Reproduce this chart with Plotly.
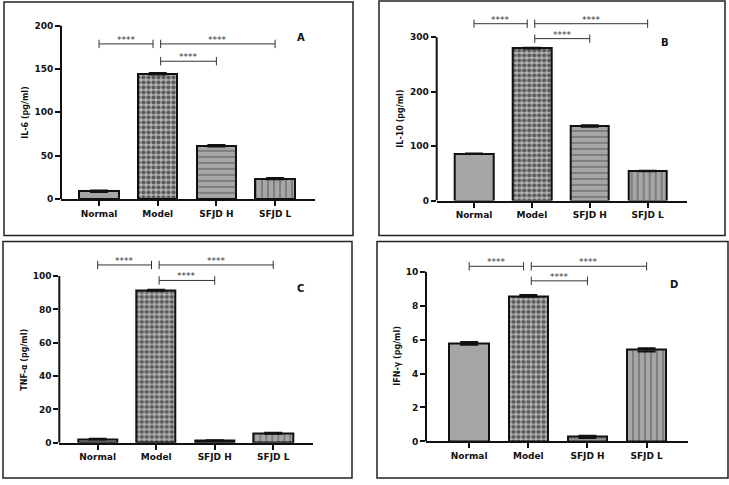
import plotly.graph_objects as go

# ---------------- data ----------------
categories = ["Normal", "Model", "SFJD H", "SFJD L"]

il6 = [8.8, 144.5, 61.5, 23.5]
il6_err = [0.8, 0.8, 0.9, 0.7]
il10 = [86, 280, 137, 54.5]
il10_err = [0.5, 0.6, 1.5, 0.5]
tnf = [2.1, 91.5, 1.2, 5.7]
tnf_err = [0.2, 0.3, 0.2, 0.3]
ifn = [5.78, 8.58, 0.27, 5.40]
ifn_err = [0.08, 0.05, 0.07, 0.1]

values = [il6, il10, tnf, ifn]
errors = [il6_err, il10_err, tnf_err, ifn_err]
y_titles = ["IL-6 (pg/ml)", "IL-10 (pg/ml)", "TNF-α (pg/ml)", "IFN-γ (pg/ml)"]
panel_letters = ["A", "B", "C", "D"]
y_ticks = [[0, 50, 100, 150, 200], [0, 100, 200, 300],
           [0, 20, 40, 60, 80, 100], [0, 2, 4, 6, 8, 10]]
sig_levels = [[179, 159], [325, 297.6], [106.7, 97.4], [10.33, 9.47]]
sig_label = "****"
# (from category, to category, level index)
comparisons = [(0, 0.92, 0), (1.05, 3, 0), (1.05, 2, 1)]
letter_pos = [(3.44, 186), (3.3, 290), (3.46, 92.5), (3.47, 9.24)]

# ---------------- layout geometry (pixels) ----------------
W, H = 729, 485
# axis x0, axis x1, y-pixel of zero, y-pixel of top tick, domain top pixel, x range
geom = [
    (61, 315, 201, 26, 10, [-0.648, 3.68]),
    (436.7, 687, 202.7, 37.7, 8, [-0.644, 3.68]),
    (59.3, 313, 447.3, 279, 252, [-0.656, 3.68]),
    (426, 688, 446, 274.7, 252, [-0.73, 3.70]),
]
title_shift = [-35.5, -36, -35, -28]
boxes = [(4, 2, 353, 238), (379, 1, 725, 238), (3, 244, 352, 483), (377, 244, 728, 483)]

GRAY = "#a6a6a6"
DARK = "#111111"
patterns = [
    dict(shape=""),
    dict(shape=".", fgcolor="#000000", bgcolor="#b4b4b4", size=5, solidity=0.55),
    dict(shape="-", fgcolor=DARK, bgcolor=GRAY, size=6, solidity=0.18),
    dict(shape="|", fgcolor=DARK, bgcolor=GRAY, size=6, solidity=0.18),
]

FONT = "DejaVu Sans"
fig = go.Figure()
shapes = []
annotations = []

for p in range(4):
    ax_x0, ax_x1, y0px, ytpx, domtop, xr = geom[p]
    ytop = y_ticks[p][-1]
    ymax = ytop * (y0px - domtop) / (y0px - ytpx)
    sfx = "" if p == 0 else str(p + 1)
    xa, ya = "x" + sfx, "y" + sfx

    for i in range(4):
        fig.add_trace(go.Bar(
            x=[i], y=[values[p][i]], width=0.67,
            marker=dict(color=GRAY, line=dict(color=DARK, width=2),
                        pattern=patterns[i]),
            error_y=dict(type="data", array=[errors[p][i]], color=DARK,
                         thickness=2, width=9),
            xaxis=xa, yaxis=ya, showlegend=False, hoverinfo="skip",
        ))

    # significance brackets
    for (a, b, lv) in comparisons:
        yv = sig_levels[p][lv]
        fig.add_trace(go.Scatter(
            x=[a, b], y=[yv, yv], mode="lines+markers",
            line=dict(color="#333333", width=1),
            marker=dict(symbol="line-ns", size=6, line=dict(color="#333333", width=1)),
            xaxis=xa, yaxis=ya, showlegend=False, hoverinfo="skip",
        ))
        annotations.append(dict(
            x=(a + b) / 2, y=yv, xref=xa, yref=ya, text=sig_label,
            showarrow=False, yanchor="bottom", yshift=-3,
            font=dict(family=FONT, size=9, color="#333333"),
        ))

    # panel letter
    annotations.append(dict(
        x=letter_pos[p][0], y=letter_pos[p][1], xref=xa, yref=ya,
        text=panel_letters[p], showarrow=False,
        font=dict(family=FONT, size=10, color=DARK, weight="bold"),
    ))
    # y title
    annotations.append(dict(
        x=0, xref=xa + " domain", y=ytop / 2, yref=ya, text=y_titles[p],
        textangle=-90, showarrow=False, xshift=title_shift[p],
        xanchor="center", yanchor="middle",
        font=dict(family=FONT, size=8, color=DARK, weight="bold"),
    ))
    # y axis line (only up to top tick)
    shapes.append(dict(type="line", xref=xa + " domain", yref=ya,
                       x0=0, x1=0, y0=0, y1=ytop,
                       line=dict(color=DARK, width=2)))
    # panel border
    bx0, by0, bx1, by1 = boxes[p]
    shapes.append(dict(type="rect", xref="paper", yref="paper",
                       x0=bx0 / W, x1=bx1 / W, y0=1 - by1 / H, y1=1 - by0 / H,
                       line=dict(color="#222222", width=1.5)))

    axis_font = dict(family=FONT, size=9, color=DARK, weight="bold")
    fig.layout["xaxis" + sfx] = dict(
        domain=[ax_x0 / W, ax_x1 / W], range=xr, anchor=ya,
        tickmode="array", tickvals=[0, 1, 2, 3], ticktext=categories,
        ticks="outside", ticklen=5, tickwidth=2, tickcolor=DARK,
        showline=True, linewidth=2, linecolor=DARK,
        showgrid=False, zeroline=False, tickfont=axis_font, fixedrange=True,
    )
    fig.layout["yaxis" + sfx] = dict(
        domain=[1 - y0px / H, 1 - domtop / H], range=[0, ymax], anchor=xa,
        tickmode="array", tickvals=y_ticks[p],
        ticks="outside", ticklen=5, tickwidth=2, tickcolor=DARK,
        showline=False, showgrid=False, zeroline=False,
        tickfont=axis_font, fixedrange=True,
    )

fig.update_layout(
    width=W, height=H, margin=dict(l=0, r=0, t=0, b=0),
    paper_bgcolor="white", plot_bgcolor="white",
    shapes=shapes, annotations=annotations, barmode="overlay",
    bargap=0,
)

fig.write_html("out.html", config={"displayModeBar": False},
               post_script="document.body.style.margin='0';")
